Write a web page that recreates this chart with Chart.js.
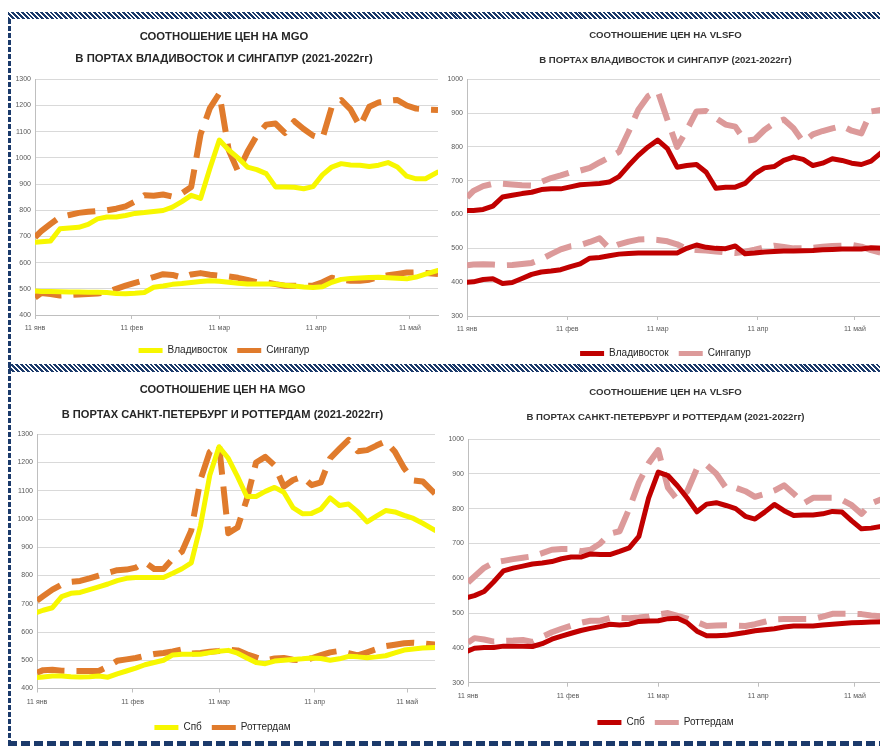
<!DOCTYPE html>
<html>
<head>
<meta charset="utf-8">
<script src="https://cdn.jsdelivr.net/npm/chart.js@4.4.1/dist/chart.umd.min.js"></script>
<style>
  html, body { margin: 0; padding: 0; background: #fff; width: 880px; height: 747px; overflow: hidden; }
  .panel { position: absolute; }
  .band { position: absolute; z-index: 5; }
  .hatch { background: repeating-linear-gradient(45deg, #1b3a6b 0px, #1b3a6b 2px, #fff 2px, #fff 3.4px); }
</style>
</head>
<body>
<div class="panel" style="left:10px;top:20px;width:430px;height:350px"><canvas id="mgoEast"></canvas></div>
<div class="panel" style="left:447px;top:20px;width:443px;height:350px"><canvas id="vlsfoEast"></canvas></div>
<div class="panel" style="left:10px;top:373px;width:430px;height:370px"><canvas id="mgoWest"></canvas></div>
<div class="panel" style="left:447px;top:373px;width:443px;height:370px"><canvas id="vlsfoWest"></canvas></div>

<div class="band hatch" style="left:8px;top:12px;width:872px;height:7px"></div>
<div class="band hatch" style="left:8px;top:364px;width:872px;height:8px"></div>
<div class="band" style="left:8px;top:741px;width:872px;height:5px;background:repeating-linear-gradient(90deg,#1b3a6b 0 9px,#fff 9px 13px)"></div>
<div class="band" style="left:8px;top:19px;width:3px;height:722px;background:repeating-linear-gradient(180deg,#1b3a6b 0 5px,transparent 5px 7px)"></div>

<script>
// days counted from 11 Jan
const days = [0,2,5,8,11,14,17,20,23,26,29,32,35,38,41,44,47,50,53,56,59,62,65,68,71,74,77,80,83,86,89,92,95,98,101,104,107,110,113,116,119,122,125,129];
const tickDays = [0, 31, 59, 90, 120];
const tickLabels = ["11 янв", "11 фев", "11 мар", "11 апр", "11 май"];

// MGO: Владивосток / Сингапур
const vladMgo2022 = [678,680,683,729,732,735,746,767,774,774,780,788,791,795,799,812,833,857,845,960,1068,1030,1000,965,955,940,889,889,888,882,890,935,965,978,973,972,967,972,982,965,930,920,920,946];
const sgMgo2022   = [697,720,748,774,782,790,794,797,800,806,815,833,857,855,860,852,865,889,1090,1190,1246,1030,948,1023,1085,1127,1131,1095,1140,1110,1085,1074,1195,1221,1185,1120,1195,1212,1218,1221,1200,1188,1185,1183];
const vladMgo2021 = [492,490,490,489,488,488,487,487,486,482,481,483,486,506,511,517,520,524,528,531,529,525,521,518,518,518,518,514,511,507,505,508,525,536,539,541,543,544,542,540,538,545,556,570];
const sgMgo2021   = [467,484,480,474,476,478,480,482,486,500,512,523,533,545,556,553,543,555,560,554,550,547,542,534,525,525,518,512,512,512,512,525,542,535,531,531,535,545,552,557,562,563,560,557];

// VLSFO: Владивосток / Сингапур
const vladVlsfo2022 = [612,612,615,625,652,657,662,666,674,676,676,682,688,690,692,696,712,745,775,800,820,795,740,745,748,725,678,681,681,692,720,738,742,760,770,763,745,752,765,760,752,748,758,790];
const sgVlsfo2022   = [651,670,684,691,691,689,687,686,697,708,716,725,730,738,754,769,785,845,910,950,965,880,800,850,905,906,885,866,860,818,822,850,870,881,855,815,837,847,855,862,848,840,905,911];
const vladVlsfo2021 = [400,401,408,410,396,399,411,423,430,433,437,446,454,471,473,478,483,485,486,486,486,486,486,500,510,503,500,499,507,484,486,489,491,492,492,493,494,496,497,498,498,498,502,500];
const sgVlsfo2021   = [450,452,453,452,450,451,454,457,468,483,497,506,510,519,530,500,512,520,526,527,525,521,512,498,495,494,491,488,486,490,496,503,508,504,500,500,502,505,507,508,510,505,495,485];

// MGO: Спб / Роттердам
const spbMgo2022 = [669,677,686,725,737,740,750,760,770,782,790,793,793,793,793,808,824,845,977,1155,1256,1215,1150,1080,1080,1098,1112,1095,1040,1019,1020,1035,1075,1048,1053,1025,990,1010,1030,1025,1013,1002,985,960];
const rotMgo2022 = [711,727,750,768,778,781,790,800,810,819,821,828,847,823,823,860,885,960,1140,1238,1262,950,970,1070,1200,1220,1190,1115,1138,1150,1120,1130,1215,1248,1280,1240,1244,1260,1275,1238,1180,1137,1133,1090];
const spbMgo2021 = [439,441,444,444,442,441,442,444,440,452,462,472,484,492,500,519,521,521,521,527,532,535,525,508,492,488,497,500,503,505,508,506,500,505,514,512,509,512,516,526,536,540,543,545];
const rotMgo2021 = [456,465,466,463,462,462,462,462,478,498,503,508,516,522,526,531,538,524,526,530,533,537,535,521,510,500,506,508,502,500,507,518,528,533,525,517,528,539,550,555,560,562,560,556];

// VLSFO: Спб / Роттердам
const spbVlsfo2022 = [545,550,562,590,621,629,635,641,644,648,656,661,661,670,668,668,677,687,720,830,905,895,865,830,791,813,817,809,800,778,770,790,812,794,780,782,782,785,792,790,765,742,744,750];
const rotVlsfo2022 = [588,605,630,645,650,655,659,663,672,682,684,684,678,682,700,728,735,800,875,930,968,860,825,850,915,925,900,860,860,850,834,842,852,867,843,815,831,831,831,825,810,785,815,830];
const spbVlsfo2021 = [391,399,401,401,405,405,405,404,412,425,434,442,450,456,461,468,466,468,476,477,478,484,485,472,448,435,435,436,440,444,449,452,455,460,463,463,463,466,468,470,472,473,474,475];
const rotVlsfo2021 = [415,428,424,418,420,421,423,417,432,445,455,464,472,478,478,486,486,485,487,490,496,500,492,484,474,463,464,465,464,463,468,475,482,483,483,483,483,490,498,498,498,497,493,490];

const FONT = "'Liberation Sans', Arial, sans-serif";
const YELLOW = "#f7f700", ORANGE = "#e07b2c", RED = "#c00000", PINK = "#dc9a9a";

function pts(vals) {
  return days.map((d, i) => ({ x: d, y: vals[i] }));
}

function makeChart(id, opt) {
  const solid = (label, color, vals) => ({
    label: label, data: pts(vals), borderColor: color, borderWidth: 5,
    borderCapStyle: "round", borderJoinStyle: "round", pointRadius: 0, tension: 0, fill: false
  });
  const dashed = (label, color, vals) => ({
    label: label, data: pts(vals), borderColor: color, borderWidth: 6, borderDash: [28, 12],
    borderCapStyle: "butt", borderJoinStyle: "round", pointRadius: 0, tension: 0, fill: false
  });

  new Chart(document.getElementById(id), {
    type: "line",
    data: {
      datasets: [
        solid(opt.names[0], opt.colors[0], opt.series[0]),
        dashed(opt.names[1], opt.colors[1], opt.series[1]),
        solid(opt.names[0], opt.colors[0], opt.series[2]),
        dashed(opt.names[1], opt.colors[1], opt.series[3])
      ]
    },
    options: {
      responsive: true,
      maintainAspectRatio: false,
      animation: false,
      layout: { padding: { left: 0, right: opt.padRight, top: 0, bottom: opt.padBottom } },
      plugins: {
        title: {
          display: true,
          text: opt.title,
          color: opt.titleColor,
          font: { family: FONT, size: opt.titleSize, weight: "bold", lineHeight: opt.titleLine + "px" },
          padding: { top: opt.titleTop, bottom: opt.titleBottom }
        },
        legend: {
          position: "bottom",
          labels: {
            boxWidth: 24, boxHeight: 5, padding: 10,
            font: { family: FONT, size: 10 }, color: "#262626",
            generateLabels: (chart) => chart.data.datasets.slice(0, 2).map((ds, i) => ({
              text: ds.label, fillStyle: ds.borderColor, strokeStyle: ds.borderColor,
              lineWidth: 0, hidden: false, datasetIndex: i, fontColor: "#262626"
            }))
          }
        },
        tooltip: { enabled: false }
      },
      scales: {
        x: {
          type: "linear", min: 0, max: 129,
          afterBuildTicks: (s) => { s.ticks = tickDays.map(v => ({ value: v })); },
          afterFit: (s) => { s.height = opt.xHeight; },
          ticks: {
            padding: 5, maxRotation: 0, autoSkip: false,
            font: { family: FONT, size: 7 }, color: "#595959",
            callback: (v) => tickLabels[tickDays.indexOf(v)]
          },
          grid: { drawOnChartArea: false, tickLength: 4, color: "#bfbfbf" },
          border: { color: "#bfbfbf" }
        },
        y: {
          min: opt.yMin, max: opt.yMax,
          afterFit: (s) => { s.width = opt.yWidth; },
          ticks: {
            stepSize: 100, padding: 4, font: { family: FONT, size: 7 }, color: "#595959",
            callback: (v) => String(v)
          },
          grid: { color: "#d9d9d9", drawTicks: false },
          border: { color: "#bfbfbf" }
        }
      }
    }
  });
}

makeChart("mgoEast", {
  title: ["СООТНОШЕНИЕ ЦЕН НА MGO", "В ПОРТАХ ВЛАДИВОСТОК И СИНГАПУР (2021-2022гг)"],
  names: ["Владивосток", "Сингапур"], colors: [YELLOW, ORANGE],
  series: [vladMgo2022, sgMgo2022, vladMgo2021, sgMgo2021],
  yMin: 400, yMax: 1300, titleSize: 11.3, titleColor: "#262626", titleLine: 22, titleTop: 6, titleBottom: 9.3,
  xHeight: 20.5, yWidth: 25, padRight: 2, padBottom: 4.5
});
makeChart("vlsfoEast", {
  title: ["СООТНОШЕНИЕ ЦЕН НА VLSFO", "В ПОРТАХ ВЛАДИВОСТОК И СИНГАПУР (2021-2022гг)"],
  names: ["Владивосток", "Сингапур"], colors: [RED, PINK],
  series: [vladVlsfo2022, sgVlsfo2022, vladVlsfo2021, sgVlsfo2021],
  yMin: 300, yMax: 1000, titleSize: 9.6, titleColor: "#333333", titleLine: 25, titleTop: 2.5, titleBottom: 6.8,
  xHeight: 22.5, yWidth: 20, padRight: 6, padBottom: 1.5
});
makeChart("mgoWest", {
  title: ["СООТНОШЕНИЕ ЦЕН НА MGO", "В ПОРТАХ САНКТ-ПЕТЕРБУРГ И РОТТЕРДАМ (2021-2022гг)"],
  names: ["Спб", "Роттердам"], colors: [YELLOW, ORANGE],
  series: [spbMgo2022, rotMgo2022, spbMgo2021, rotMgo2021],
  yMin: 400, yMax: 1300, titleSize: 11.1, titleColor: "#262626", titleLine: 25, titleTop: 4.5, titleBottom: 6.8,
  xHeight: 24, yWidth: 27, padRight: 5, padBottom: 0.5
});
makeChart("vlsfoWest", {
  title: ["СООТНОШЕНИЕ ЦЕН НА VLSFO", "В ПОРТАХ САНКТ-ПЕТЕРБУРГ И РОТТЕРДАМ (2021-2022гг)"],
  names: ["Спб", "Роттердам"], colors: [RED, PINK],
  series: [spbVlsfo2022, rotVlsfo2022, spbVlsfo2021, rotVlsfo2021],
  yMin: 300, yMax: 1000, titleSize: 9.6, titleColor: "#333333", titleLine: 25, titleTop: 6.5, titleBottom: 9.5,
  xHeight: 24.8, yWidth: 21, padRight: 6, padBottom: 5.5
});
</script>
</body>
</html>
